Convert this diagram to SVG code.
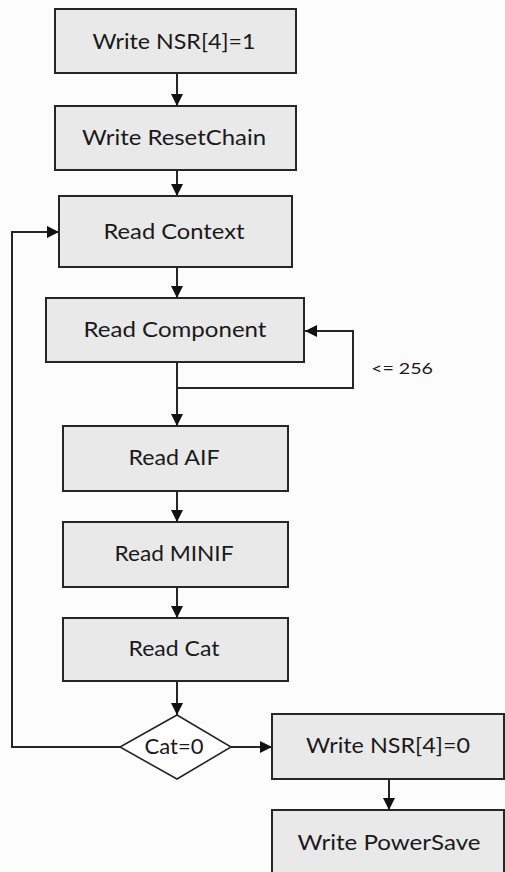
<svg xmlns="http://www.w3.org/2000/svg" width="505" height="872" viewBox="0 0 505 872">
  <style>
    .box { fill: #e9e9e9; stroke: #262626; stroke-width: 2; }
    .dia { fill: #ffffff; stroke: #262626; stroke-width: 1.6; }
    .lbl { font-family: Lato, "Open Sans", "Liberation Sans", sans-serif; font-size: 21px; fill: #1a1a1a; text-anchor: middle; }
    .note { font-family: Lato, "Open Sans", "Liberation Sans", sans-serif; font-size: 16px; fill: #1a1a1a; }
    .wire { fill: none; stroke: #262626; stroke-width: 2; }
  </style>
  <defs>
    <marker id="arr" viewBox="0 0 12 12" refX="12" refY="6" markerWidth="12" markerHeight="12" markerUnits="userSpaceOnUse" orient="auto">
      <path d="M0,0 L12,6 L0,12 Z" fill="#111111"/>
    </marker>
  </defs>
  <rect width="505" height="872" fill="#fcfcfc"/>

  <g id="connectors">
    <line class="wire" x1="177" y1="73" x2="177" y2="106" marker-end="url(#arr)"/>
    <line class="wire" x1="177" y1="170" x2="177" y2="196" marker-end="url(#arr)"/>
    <line class="wire" x1="177" y1="267" x2="177" y2="298" marker-end="url(#arr)"/>
    <line class="wire" x1="177" y1="362" x2="177" y2="426" marker-end="url(#arr)"/>
    <polyline class="wire" points="177,388 353,388 353,331 305,331" marker-end="url(#arr)"/>
    <line class="wire" x1="177" y1="491" x2="177" y2="522" marker-end="url(#arr)"/>
    <line class="wire" x1="177" y1="587" x2="177" y2="618" marker-end="url(#arr)"/>
    <line class="wire" x1="177" y1="681" x2="177" y2="715" marker-end="url(#arr)"/>
    <polyline class="wire" points="120,747 12,747 12,232 59,232" marker-end="url(#arr)"/>
    <line class="wire" x1="231" y1="747" x2="272" y2="747" marker-end="url(#arr)"/>
    <line class="wire" x1="389" y1="779" x2="389" y2="810" marker-end="url(#arr)"/>
  </g>

  <g id="write-nsr1">
    <rect class="box" x="55" y="9" width="241" height="64"/>
    <text class="lbl" x="174" y="49" textLength="163" lengthAdjust="spacingAndGlyphs">Write NSR[4]=1</text>
  </g>
  <g id="write-resetchain">
    <rect class="box" x="55" y="106" width="241" height="64"/>
    <text class="lbl" x="174" y="145" textLength="184" lengthAdjust="spacingAndGlyphs">Write ResetChain</text>
  </g>
  <g id="read-context">
    <rect class="box" x="59" y="196" width="233" height="71"/>
    <text class="lbl" x="174" y="239" textLength="141" lengthAdjust="spacingAndGlyphs">Read Context</text>
  </g>
  <g id="read-component">
    <rect class="box" x="46" y="298" width="258" height="64"/>
    <text class="lbl" x="175" y="337" textLength="183" lengthAdjust="spacingAndGlyphs">Read Component</text>
    <text class="note" x="371" y="374" textLength="62" lengthAdjust="spacingAndGlyphs">&lt;= 256</text>
  </g>
  <g id="read-aif">
    <rect class="box" x="63" y="426" width="225" height="65"/>
    <text class="lbl" x="174" y="465" textLength="91" lengthAdjust="spacingAndGlyphs">Read AIF</text>
  </g>
  <g id="read-minif">
    <rect class="box" x="63" y="522" width="225" height="65"/>
    <text class="lbl" x="174" y="561" textLength="119" lengthAdjust="spacingAndGlyphs">Read MINIF</text>
  </g>
  <g id="read-cat">
    <rect class="box" x="63" y="618" width="225" height="63"/>
    <text class="lbl" x="174" y="656" textLength="91" lengthAdjust="spacingAndGlyphs">Read Cat</text>
  </g>
  <g id="cat-decision">
    <polygon class="dia" points="177,715 231,747 177,779 120,747"/>
    <text class="lbl" x="174" y="754" textLength="59" lengthAdjust="spacingAndGlyphs">Cat=0</text>
  </g>
  <g id="write-nsr0">
    <rect class="box" x="272" y="714" width="232" height="65"/>
    <text class="lbl" x="388" y="753" textLength="164" lengthAdjust="spacingAndGlyphs">Write NSR[4]=0</text>
  </g>
  <g id="write-powersave">
    <rect class="box" x="272" y="810" width="232" height="70"/>
    <text class="lbl" x="389" y="850" textLength="183" lengthAdjust="spacingAndGlyphs">Write PowerSave</text>
  </g>
</svg>
